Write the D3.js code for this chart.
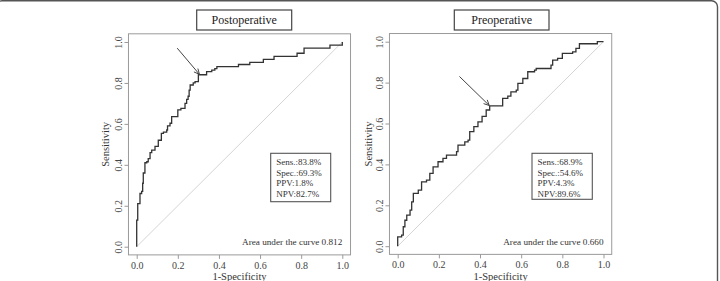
<!DOCTYPE html>
<html lang="en">
<head>
    <meta charset="UTF-8">
    <title>ROC curves</title>
    <script src="https://d3js.org/d3.v7.min.js"></script>
    <style>
        body { margin: 0; background: #fff; }
        svg text { font-family: "Liberation Serif", "DejaVu Serif", serif; }
    </style>
</head>
<body>
    <div id="chart"></div>
    <script>
        // Dane (1-specyficzność, czułość)
        const postFpr = [0,0,0.005,0.016,0.016,0.024,0.029,0.032,0.032,0.04,0.049,0.056,0.065,0.073,0.089,0.105,0.105,0.113,0.12,0.13,0.146,0.15,0.162,0.17,0.178,0.2,0.215,0.227,0.235,0.243,0.25,0.255,0.26,0.275,0.284,0.30,0.33,0.34,0.365,0.38,0.39,0.486,0.495,0.54,0.55,0.61,0.616,0.66,0.668,0.77,0.78,0.81,0.814,0.93,0.94,0.99,1];
        const postTpr = [0,0.13,0.21,0.236,0.26,0.27,0.31,0.334,0.36,0.41,0.415,0.43,0.46,0.472,0.49,0.505,0.52,0.52,0.554,0.56,0.57,0.59,0.603,0.635,0.635,0.668,0.676,0.676,0.70,0.72,0.735,0.765,0.79,0.80,0.806,0.84,0.84,0.855,0.863,0.87,0.88,0.88,0.89,0.89,0.90,0.90,0.915,0.915,0.93,0.93,0.945,0.945,0.97,0.97,0.985,0.985,1];

        const preFpr = [0,0,0.019,0.027,0.035,0.044,0.06,0.068,0.076,0.1,0.116,0.14,0.156,0.172,0.196,0.22,0.237,0.286,0.293,0.326,0.342,0.35,0.37,0.39,0.41,0.43,0.447,0.495,0.51,0.535,0.55,0.576,0.584,0.608,0.632,0.665,0.673,0.73,0.745,0.753,0.777,0.8,0.85,0.866,0.883,0.963,0.97,1];
        const preTpr = [0,0.046,0.054,0.095,0.127,0.152,0.176,0.217,0.258,0.274,0.315,0.323,0.356,0.388,0.413,0.429,0.445,0.462,0.494,0.51,0.519,0.56,0.585,0.608,0.635,0.666,0.686,0.686,0.723,0.734,0.755,0.763,0.796,0.82,0.853,0.861,0.869,0.869,0.885,0.91,0.918,0.943,0.95,0.967,0.99,0.99,1,1];

        const titles = ["Postoperative", "Preoperative"];
        const postStats = ["Sens.:83.8%", "Spec.:69.3%", "PPV:1.8%", "NPV:82.7%"];
        const preStats = ["Sens.:68.9%", "Spec.:54.6%", "PPV:4.3%", "NPV:89.6%"];
        const aucLabels = ["Area under the curve 0.812", "Area under the curve 0.660"];
        // strzałki: [ogon x, ogon y, grot x, grot y] w jednostkach danych
        const arrows = [[0.197, 0.97, 0.305, 0.842], [0.30, 0.83, 0.445, 0.688]];
        const ticks = [0, 0.2, 0.4, 0.6, 0.8, 1.0];

        const width = 720, height = 281;
        const svg = d3.select("#chart").append("svg")
            .attr("width", width)
            .attr("height", height);

        svg.append("rect").attr("width", width).attr("height", height).attr("fill", "#fff");

        // ramka całego obrazka (widoczna góra i prawa strona)
        svg.append("rect")
            .attr("x", -4).attr("y", 0.8)
            .attr("width", 721.5).attr("height", 330)
            .attr("rx", 6)
            .attr("fill", "none")
            .attr("stroke", "#555")
            .attr("stroke-width", 1.4);

        // Ustawienia paneli
        const panels = [
            { fpr: postFpr, tpr: postTpr, stats: postStats, x0: 136.7, x1: 342.3, y0: 246.7, y1: 42,
              titleBox: [196.7, 291.7], legend: [270.7, 153.3, 60, 48.4], ylab: 105 },
            { fpr: preFpr, tpr: preTpr, stats: preStats, x0: 397.7, x1: 603.5, y0: 246.2, y1: 41.7,
              titleBox: [454.3, 549], legend: [532, 153.3, 60.3, 46], ylab: 368 }
        ];

        panels.forEach((p, i) => {
            const x = d3.scaleLinear().domain([0, 1]).range([p.x0, p.x1]);
            const y = d3.scaleLinear().domain([0, 1]).range([p.y0, p.y1]);
            const padX = (p.x1 - p.x0) * 0.04, padY = (p.y0 - p.y1) * 0.04;
            const g = svg.append("g");

            // ramka wykresu
            g.append("rect")
                .attr("x", p.x0 - padX).attr("y", p.y1 - padY)
                .attr("width", p.x1 - p.x0 + 2 * padX)
                .attr("height", p.y0 - p.y1 + 2 * padY)
                .attr("fill", "none").attr("stroke", "#9a9a9a").attr("stroke-width", 1);

            // osie
            const xAxis = d3.axisBottom(x).tickValues(ticks).tickFormat(d3.format(".1f")).tickSize(4).tickPadding(3);
            const gx = g.append("g").attr("transform", `translate(0,${p.y0 + padY})`).call(xAxis);
            gx.select(".domain").remove();
            gx.selectAll("line").attr("stroke", "#9a9a9a");
            gx.selectAll("text").attr("fill", "#444").style("font-size", "10px")
                .style("font-family", "'Liberation Serif', serif");

            const yAxis = d3.axisLeft(y).tickValues(ticks).tickFormat(d3.format(".1f")).tickSize(4);
            const gy = g.append("g").attr("transform", `translate(${p.x0 - padX},0)`).call(yAxis);
            gy.select(".domain").remove();
            gy.selectAll("line").attr("stroke", "#9a9a9a");
            gy.selectAll("text")
                .attr("fill", "#444").style("font-size", "10px")
                .style("font-family", "'Liberation Serif', serif")
                .attr("x", null).attr("dy", null)
                .attr("text-anchor", "middle")
                .attr("transform", "translate(-10,0) rotate(-90)")
                .attr("y", 3.5);

            // tytuły osi
            g.append("text")
                .attr("x", (p.x0 + p.x1) / 2).attr("y", 279.5)
                .attr("text-anchor", "middle")
                .attr("fill", "#333").style("font-size", "10.5px")
                .text("1-Specificity");
            g.append("text")
                .attr("transform", `translate(${p.ylab},${(p.y0 + p.y1) / 2}) rotate(-90)`)
                .attr("text-anchor", "middle").attr("dy", 3.5)
                .attr("fill", "#333").style("font-size", "10.5px")
                .text("Sensitivity");

            // przekątna
            g.append("line")
                .attr("x1", x(0)).attr("y1", y(0)).attr("x2", x(1)).attr("y2", y(1))
                .attr("stroke", "#cfcfcf").attr("stroke-width", 0.9);

            // krzywa ROC
            const pts = p.fpr.map((f, k) => [f, p.tpr[k]]);
            g.append("path")
                .datum(pts)
                .attr("fill", "none")
                .attr("stroke", "#333")
                .attr("stroke-width", 1.3)
                .attr("d", d3.line().x(d => x(d[0])).y(d => y(d[1])).curve(d3.curveStepAfter));

            // strzałka
            const a = arrows[i];
            const ax0 = x(a[0]), ay0 = y(a[1]), ax1 = x(a[2]), ay1 = y(a[3]);
            const ang = Math.atan2(ay1 - ay0, ax1 - ax0);
            g.append("line")
                .attr("x1", ax0).attr("y1", ay0).attr("x2", ax1).attr("y2", ay1)
                .attr("stroke", "#444").attr("stroke-width", 1);
            [-0.45, 0.45].forEach(o => {
                g.append("line")
                    .attr("x1", ax1).attr("y1", ay1)
                    .attr("x2", ax1 - 6 * Math.cos(ang + o)).attr("y2", ay1 - 6 * Math.sin(ang + o))
                    .attr("stroke", "#444").attr("stroke-width", 1);
            });

            // tytuł w ramce
            g.append("rect")
                .attr("x", p.titleBox[0]).attr("y", 10)
                .attr("width", p.titleBox[1] - p.titleBox[0]).attr("height", 20)
                .attr("fill", "#fff").attr("stroke", "#444").attr("stroke-width", 1.2);
            g.append("text")
                .attr("x", (p.titleBox[0] + p.titleBox[1]) / 2).attr("y", 24)
                .attr("text-anchor", "middle")
                .attr("fill", "#222").style("font-size", "12px")
                .text(titles[i]);

            // legenda
            const L = p.legend;
            g.append("rect")
                .attr("x", L[0]).attr("y", L[1]).attr("width", L[2]).attr("height", L[3])
                .attr("fill", "#fff").attr("stroke", "#555").attr("stroke-width", 1.1);
            g.selectAll(".stat").data(p.stats).enter().append("text")
                .attr("x", L[0] + 5.5)
                .attr("y", (d, k) => L[1] + 11.5 + k * 10.7)
                .attr("fill", "#333").style("font-size", "9px")
                .text(d => d);

            // pole pod krzywą
            g.append("text")
                .attr("x", p.x1).attr("y", 245)
                .attr("text-anchor", "end")
                .attr("fill", "#333").style("font-size", "9.2px")
                .text(aucLabels[i]);
        });
    </script>
</body>
</html>
